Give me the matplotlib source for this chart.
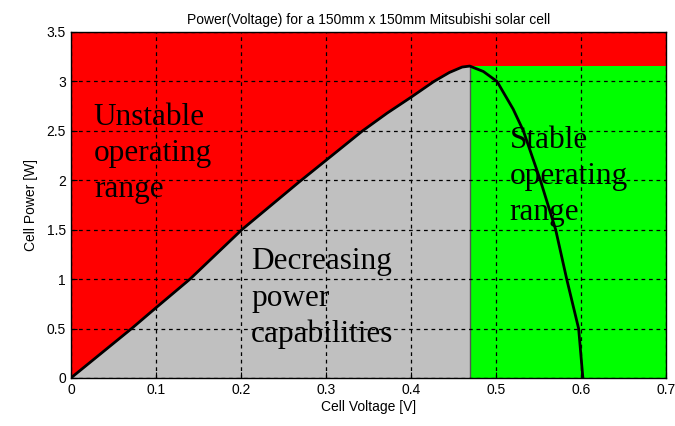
import numpy as np
from matplotlib import pyplot as plt

# measured P(V) curve of the cell
voltage = [0, 0.0714, 0.1, 0.140, 0.201, 0.268, 0.343, 0.372, 0.4,
           0.427, 0.445, 0.46, 0.469, 0.485, 0.501, 0.52, 0.532, 0.552,
           0.570, 0.583, 0.597, 0.602]
power = [0, 0.5, 0.71, 1.0, 1.5, 1.98, 2.5, 2.68, 2.84,
         3.0, 3.09, 3.145, 3.155, 3.1, 3.0, 2.72, 2.5, 2.0,
         1.5, 1.0, 0.5, 0]

v_mpp = 0.469
p_mpp = 3.155
x_ticks = [0, 0.1, 0.2, 0.3, 0.4, 0.5, 0.6, 0.7]
y_ticks = [0, 0.5, 1, 1.5, 2, 2.5, 3, 3.5]

plt.rcParams['font.family'] = ['Liberation Sans', 'DejaVu Sans']

fig = plt.figure(figsize=(6.75, 4.26), dpi=100)
ax = fig.add_axes([0.105, 0.1127, 0.882, 0.8123])
ax.set_xlim(0, 0.7)
ax.set_ylim(0, 3.5)
ax.set_facecolor('#ff0000')

v = np.array(voltage)
p = np.array(power)
left = v <= v_mpp
ax.fill_between(v[left], 0, p[left], color='#c0c0c0', zorder=1, lw=0)
ax.fill_between([v_mpp, 0.7], 0, p_mpp, color='#00ff00', zorder=1, lw=0)
ax.plot([v_mpp, v_mpp], [0, p_mpp], color='#555555', lw=1, zorder=2)
ax.plot(v, p, color='black', lw=2, zorder=4, solid_joinstyle='round')

ax.set_xticks(x_ticks)
ax.set_yticks(y_ticks)
ax.set_xticklabels(['0', '0.1', '0.2', '0.3', '0.4', '0.5', '0.6', '0.7'])
ax.set_yticklabels(['0', '0.5', '1', '1.5', '2', '2.5', '3', '3.5'])
ax.tick_params(direction='in', labelsize=10, colors='black', length=4)
ax.grid(True, color='black', linestyle=(0, (3, 3)), linewidth=0.9, zorder=3)
ax.set_axisbelow(False)
for s in ax.spines.values():
    s.set_linewidth(1)
    s.set_zorder(5)

ax.set_title('Power(Voltage) for a 150mm x 150mm Mitsubishi solar cell', fontsize=10, pad=6)
ax.set_xlabel('Cell Voltage [V]', fontsize=10, labelpad=2)
ax.set_ylabel('Cell Power [W]', fontsize=10, labelpad=6)

serif = dict(family=['Liberation Serif', 'DejaVu Serif'], fontsize=22.5,
             va='top', ha='left', linespacing=1.32, zorder=6)
ax.text(0.027, 2.78, 'Unstable\noperating\nrange', **serif)
ax.text(0.212, 1.32, 'Decreasing\npower\ncapabilities', **serif)
ax.text(0.516, 2.55, 'Stable\noperating\nrange', **serif)

fig.savefig('out.png', dpi=100)
